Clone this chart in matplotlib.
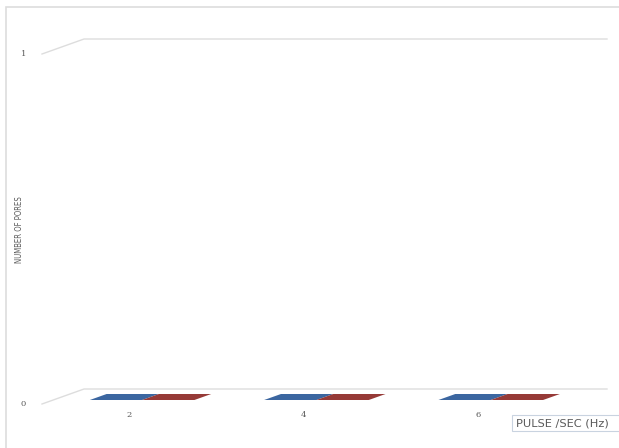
import matplotlib
matplotlib.use("Agg")
import matplotlib.pyplot as plt
from matplotlib.patches import Polygon, Rectangle
from matplotlib.lines import Line2D
from matplotlib.transforms import IdentityTransform

# data
categorias = ["2", "4", "6"]
serie_a = [0, 0, 0]
serie_b = [0, 0, 0]
y_ticks = [0, 1]
titulo_x = "PULSE /SEC (Hz)"
titulo_y = "NUMBER OF PORES"

cor_a = "#3B66A0"
cor_b = "#963A37"
cor_grade = "#DDDDDD"
cor_texto = "#595959"

# deslocamento da profundidade (px) para a face frontal
PROF_X = -42
PROF_Y = -15


def proj(ax, x, v, d):
    px, py = ax.transData.transform((x, v))
    return (px + d * PROF_X, py + d * PROF_Y)


def gerar_grafico():
    fig = plt.figure(figsize=(6.19, 4.48), dpi=100)
    W, H = 619, 448
    ax = fig.add_axes([84 / W, (H - 389) / H, 523 / W, 350 / H])
    ax.set_xlim(-0.5, len(categorias) - 0.5)
    ax.set_ylim(0, 1)
    ax.axis("off")

    ident = IdentityTransform()

    # moldura do grafico
    fig.add_artist(Rectangle((6 / W, -0.2), 2, (H - 7) / H + 0.2,
                             transform=fig.transFigure, fill=False,
                             edgecolor=cor_grade, lw=1.2))

    # linhas de grade (parede de fundo + parede lateral)
    x0, x1 = ax.get_xlim()
    for v in y_ticks:
        a = proj(ax, x0, v, 1)
        b = proj(ax, x0, v, 0)
        c = proj(ax, x1, v, 0)
        fig.add_artist(Line2D([a[0], b[0], c[0]], [a[1], b[1], c[1]],
                              transform=ident, color=cor_grade, lw=1))
        fig.text(a[0] - 16, a[1], str(v), transform=ident, ha="right",
                 va="center", fontsize=6, color=cor_texto, family="DejaVu Serif")

    # barras (altura zero -> so a face de cima)
    d0, d1 = 1 / 3, 11 / 15
    larg = 0.3
    for i, (va, vb) in enumerate(zip(serie_a, serie_b)):
        for k, (val, cor) in enumerate([(va, cor_a), (vb, cor_b)]):
            xa = i - larg + k * larg + 0.01
            xb = xa + larg
            pts = [proj(ax, xa, val, d1), proj(ax, xb, val, d1),
                   proj(ax, xb, val, d0), proj(ax, xa, val, d0)]
            fig.add_artist(Polygon(pts, closed=True, transform=ident,
                                   facecolor=cor, edgecolor="none"))
        p = proj(ax, i, 0, 1)
        fig.text(p[0], p[1] - 11, categorias[i], transform=ident, ha="center",
                 va="center", fontsize=6, color=cor_texto, family="DejaVu Serif")

    # titulo do eixo y
    fig.text(20 / W, 1 - 230 / H, titulo_y, rotation=90, ha="center", va="center",
             fontsize=5.6, color=cor_texto, fontstretch="condensed",
             family=["Liberation Sans Narrow", "DejaVu Sans"])

    # titulo do eixo x (caixa cortada pela borda direita)
    fig.add_artist(Rectangle((512 / W, 1 - 431 / H), 120 / W, 16 / H,
                             transform=fig.transFigure, facecolor="white",
                             edgecolor="#C9D3E0", lw=0.8))
    fig.text(516 / W, 1 - 423 / H, titulo_x, ha="left", va="center",
             fontsize=8.2, color=cor_texto, family="DejaVu Sans")

    fig.savefig("out.png", dpi=100)


if __name__ == "__main__":
    gerar_grafico()
